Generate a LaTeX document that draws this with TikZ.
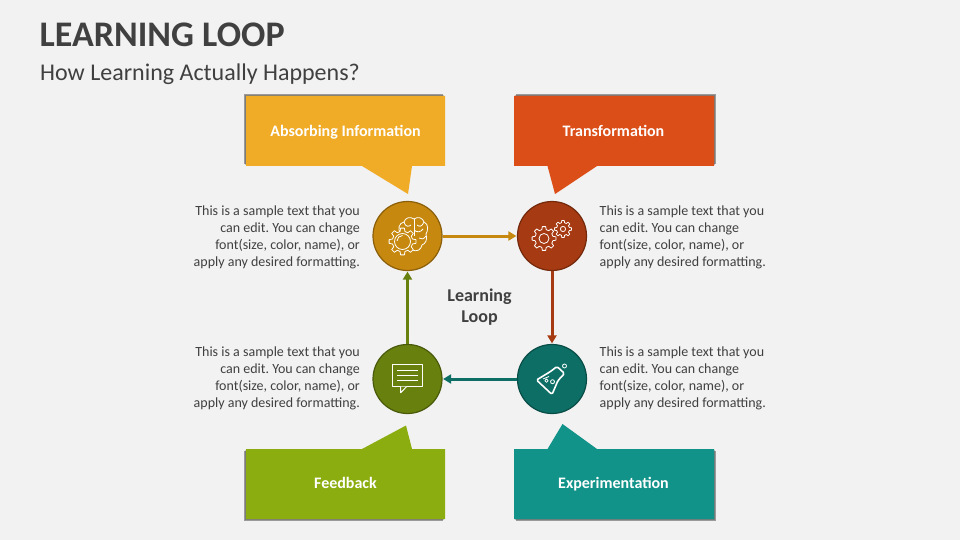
\documentclass[tikz,border=0pt]{standalone}
\usepackage{fontspec}
\setmainfont{Carlito}
\usetikzlibrary{arrows.meta}
\definecolor{pagebg}{HTML}{F2F2F2}
\definecolor{inktext}{HTML}{404040}
\definecolor{absorbcol}{HTML}{F0AB27}
\definecolor{transcol}{HTML}{DC4E18}
\definecolor{feedcol}{HTML}{8BAD10}
\definecolor{expercol}{HTML}{12938A}
\definecolor{absorbdark}{HTML}{C6880E}
\definecolor{transdark}{HTML}{A63A12}
\definecolor{feeddark}{HTML}{68800E}
\definecolor{experdark}{HTML}{0D6E66}
\tikzset{
	hub/.style={circle,inner sep=0pt,minimum size=69pt,line width=1.2pt},
	loopline/.style={line width=3pt,-{Triangle[length=8pt,width=9pt]},shorten >=.5pt},
	boxtext/.style={text=white,anchor=base,inner sep=0pt,font=\fontsize{16}{19}\selectfont\bfseries},
	sidetext/.style={text=inktext,font=\frenchspacing\fontsize{14}{17}\selectfont,inner sep=0pt},
	iconline/.style={draw=white,line width=.8pt,line join=round},
	boxshade/.style={fill=black,opacity=.2},
}
\newcommand{\sampleright}{This is a sample text that you\\can edit. You can change\\font(size, color, name), or\\apply any desired formatting.}
% gear: x, y, outer radius, hub radius, fill
\newcommand{\gearicon}[5]{
	\begin{scope}[shift={(#1,#2)}]
		\draw[iconline,fill=#5] (0:#3)
		\foreach \t in {0,45,...,315} {
			-- (\t+8:#3) -- (\t+14:#3*.76) -- (\t+31:#3*.76) -- (\t+37:#3)
		} -- cycle;
		\draw[iconline] (0,0) circle (#4);
	\end{scope}
}
\begin{document}
\begin{tikzpicture}[x=1pt,y=-1pt]
	\useasboundingbox (0,0) rectangle (960,540);
	\fill[pagebg] (0,0) rectangle (960,540);

	\node[anchor=west,inner sep=0pt,text=inktext,font=\fontsize{36}{40}\selectfont\bfseries] (title) at (39.5,34.5) {LEARNING LOOP};
	\node[anchor=west,inner sep=0pt,text=inktext,font=\fontsize{24}{28}\selectfont] (subtitle) at (40,74.5) {How Learning Actually Happens?};

	% shadows
	\foreach \s in {.8,1.6,2.4} {
		\fill[boxshade] (246-\s,96-\s) rectangle (445-\s,166-\s);
		\fill[boxshade] (514+\s,96-\s) rectangle (714+\s,166-\s);
		\fill[boxshade] (246-\s,449+\s) rectangle (445-\s,519+\s);
		\fill[boxshade] (514+\s,449+\s) rectangle (714+\s,519+\s);
	}
	% callouts
	\fill[absorbcol] (246,96) -- (445,96) -- (445,166) -- (412,166) -- (408,194) -- (362,166) -- (246,166) -- cycle;
	\fill[transcol] (514,96) -- (714,96) -- (714,166) -- (597,166) -- (555,194) -- (547.5,166) -- (514,166) -- cycle;
	\fill[feedcol] (246,449) -- (362,449) -- (406,425.5) -- (412,449) -- (445,449) -- (445,519) -- (246,519) -- cycle;
	\fill[expercol] (514,449) -- (547.5,449) -- (562.5,424) -- (597,449) -- (714,449) -- (714,519) -- (514,519) -- cycle;
	\node[boxtext] (absorb) at (345.5,136.7) {Absorbing Information};
	\node[boxtext] (trans) at (613.5,136.7) {Transformation};
	\node[boxtext] (feed) at (345.5,488) {Feedback};
	\node[boxtext] (exper) at (613.5,488) {Experimentation};

	% hubs
	\node[hub,fill=absorbdark,draw=absorbdark!70!black] (hubA) at (407.5,236) {};
	\node[hub,fill=transdark,draw=transdark!70!black] (hubB) at (552,236) {};
	\node[hub,fill=experdark,draw=experdark!70!black] (hubC) at (552,379) {};
	\node[hub,fill=feeddark,draw=feeddark!70!black] (hubD) at (407.5,379) {};

	\draw[loopline,absorbdark] (hubA) -- (hubB);
	\draw[loopline,transdark] (hubB) -- (hubC);
	\draw[loopline,experdark] (hubC) -- (hubD);
	\draw[loopline,feeddark] (hubD) -- (hubA);

	\node[inner sep=0pt,align=center,text=inktext,font=\fontsize{18}{21}\selectfont\bfseries] (centre) at (479.5,307.3) {Learning\\Loop};

	\node[sidetext,align=right,anchor=east] (textA) at (360,237.5) {\sampleright};
	\node[sidetext,align=left,anchor=west] (textB) at (599.5,237.5) {\sampleright};
	\node[sidetext,align=right,anchor=east] (textD) at (360,378.5) {\sampleright};
	\node[sidetext,align=left,anchor=west] (textC) at (599.5,378.5) {\sampleright};

	% brain and gear
	\draw[iconline] (401,234) .. controls (397,229) and (399,223) .. (404,222) .. controls (405,218) and (410,216) .. (414,219) .. controls (418,216) and (423,218) .. (424,222) .. controls (429,224) and (428,231) .. (426,234) .. controls (428,240) and (425,244) .. (422,245) .. controls (421,250) and (417,252) .. (412,250);
	\draw[iconline] (414,219) -- (414,236);
	\draw[iconline] (404,222) .. controls (405,227) and (409,227) .. (411,225);
	\draw[iconline] (424,222) .. controls (422,227) and (419,227) .. (417,225);
	\draw[iconline] (414,230) .. controls (417,233) and (421,232) .. (423,229);
	\draw[iconline] (419,238) .. controls (421,240) and (424,239) .. (426,236);
	\gearicon{402.5}{241.5}{13.5}{8}{absorbdark}
	\draw[iconline] (397,241) arc (180:270:5.5);

	% two gears
	\gearicon{544}{238.5}{12}{5}{transdark}
	\gearicon{563}{229}{8.5}{2.6}{transdark}

	% flask
	\draw[draw=white,line width=1.6pt,line join=round,rounded corners=1.5pt] (550.5,371.5) -- (536.5,380) -- (552,394.5) -- (558,380.5) -- (564.5,373.5) -- (557,366.5) -- cycle;
	\draw[iconline] (546.5,380.7) circle (1.7) (552.5,381.7) circle (2) (564.5,366) circle (2);
	\draw[iconline] (543,379) -- (549,376.5);

	% speech bubble
	\draw[iconline,line width=1pt] (392.5,364.5) rectangle (422.5,386.5);
	\draw[iconline,line width=1pt,fill=feeddark] (400.7,386.5) -- (400.7,392.7) -- (406.7,386.5);
	\foreach \y in {370.7,375.4,380.3} \draw[iconline] (397,\y) -- (418,\y);
\end{tikzpicture}
\end{document}
